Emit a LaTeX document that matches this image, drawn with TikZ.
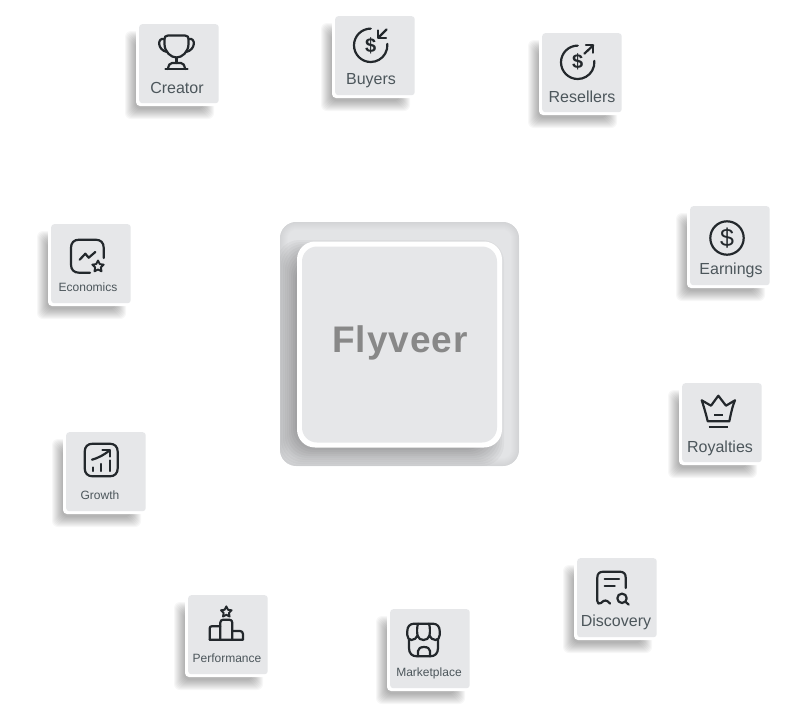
\documentclass[tikz,border=0pt]{standalone}
\usepackage{fontspec}
\setmainfont{Liberation Sans}
\definecolor{cardgray}{HTML}{E6E7E9}
\definecolor{basegray}{HTML}{E3E4E6}
\definecolor{inkc}{HTML}{23282C}
\definecolor{labelc}{HTML}{4C565B}
\definecolor{titlec}{HTML}{888888}
\tikzset{
  cardface/.style={fill=cardgray,rounded corners=3pt},
  cardback/.style={fill=white,rounded corners=4pt},
  ico/.style={draw=inkc,line width=2.2pt,line cap=round,line join=round,fill=none},
  cardlabel/.style={text=labelc,inner sep=0pt,anchor=center},
  dollar/.style={text=inkc,inner sep=0pt,font=\fontsize{20}{20}\selectfont\bfseries},
}
\newcommand{\mystar}[3]{\draw[ico,line width=1.9pt,shift={(#1,#2)}]
  (90:#3) -- (126:0.5*#3) -- (162:#3) -- (198:0.5*#3) -- (234:#3) -- (270:0.5*#3)
  -- (306:#3) -- (342:0.5*#3) -- (18:#3) -- (54:0.5*#3) -- cycle;}
\newcommand{\mycard}[8]{%
  \begin{scope}[shift={(#2,#3)}]
    \foreach \d in {-5,-4,...,5}{
      \fill[black,opacity=.032,rounded corners=6pt] ({-9-\d},{12-\d}) rectangle ({70+\d},{90+\d});}
    \fill[cardback] (-3,-2) rectangle (80,82);
    \node[cardface,minimum width=79.5pt,minimum height=79pt,inner sep=0pt,anchor=north west] (#1) at (0,0) {};
    \node[cardlabel,font=\fontsize{#6}{#6}\selectfont] (#1label) at (#4,#5) {#7};
    #8
  \end{scope}}
\newcommand{\icoTrophy}{
  \draw[ico] (29,11.5) -- (46,11.5) .. controls (48.5,11.5) and (49.5,13) .. (49.5,15) -- (49.5,20) .. controls (49.5,28) and (43,33.5) .. (37.5,33.5) .. controls (32,33.5) and (25.5,28) .. (25.5,20) -- (25.5,15) .. controls (25.5,13) and (26.5,11.5) .. (29,11.5) -- cycle;
  \draw[ico] (25.5,15) .. controls (18,13) and (18,26) .. (28,28);
  \draw[ico] (49.5,15) .. controls (57,13) and (57,26) .. (47,28);
  \draw[ico] (37.5,33.5) -- (37.5,39);
  \draw[ico] (29,45) .. controls (29.5,41) and (31,39) .. (33,39) -- (42,39) .. controls (44,39) and (45.5,41) .. (46,45);
  \draw[ico] (26.5,45) -- (48.5,45);
}
\newcommand{\icoCoin}{
  \draw[ico] (35.7,12.6) arc[start angle=90,end angle=365,radius=16.7pt];
}
\begin{document}
\begin{tikzpicture}[x=1pt,y=-1pt]
\useasboundingbox (0,0) rectangle (797,710);
% centre
\node[fill=basegray,rounded corners=16pt,minimum width=239pt,minimum height=244pt,inner sep=0pt] (base) at (399.5,344) {};
\begin{scope}
  \clip[rounded corners=16pt] (280,222) rectangle (519,466);
  \foreach \w in {2,4,...,16}{
    \draw[black,opacity=.008,line width=\w pt,rounded corners=16pt] (280,222) rectangle (519,466);}
  \foreach \d in {-14,-12,...,14}{
    \fill[black,opacity=.03,rounded corners=22pt] ({291-\d},{254-\d}) rectangle ({490+\d},{452+\d});}
\end{scope}
\node[fill=white,rounded corners=18pt,minimum width=205pt,minimum height=206pt,inner sep=0pt] (panel) at (399.5,344.5) {};
\node[fill=cardgray,rounded corners=15pt,minimum width=195pt,minimum height=196pt,inner sep=0pt] (face) at (399.5,344.5) {};
\node[text=titlec,inner sep=0pt,font=\fontsize{37}{37}\selectfont\bfseries\addfontfeature{LetterSpace=2.5}] (title) at (400,343) {Flyveer};
% cards
\mycard{creator}{139}{24}{38}{64}{16}{Creator}{\icoTrophy}
\mycard{buyers}{335}{16}{36}{64.5}{16}{Buyers}{
  \icoCoin
  \node[dollar] (buyersd) at (35.7,29.5) {\$};
  \draw[ico] (51.7,13.3) -- (43.3,21.7);
  \draw[ico] (43.3,14.5) -- (43.3,21.7) -- (51,21.7);
}
\mycard{resellers}{542}{33}{40}{64}{16}{Resellers}{
  \icoCoin
  \node[dollar] (resellersd) at (35.7,29) {\$};
  \draw[ico] (42.3,20.7) -- (51.3,12.3);
  \draw[ico] (44,12.3) -- (51.3,12.3) -- (51.3,19.7);
}
\mycard{earnings}{690}{206}{41}{64.5}{16}{Earnings}{
  \draw[ico] (37,32) circle[radius=16.7pt];
  \node[dollar,font=\fontsize{25}{25}\selectfont] (earningsd) at (37,32) {\$};
}
\mycard{royalties}{682}{383}{38}{65.5}{16}{Royalties}{
  \draw[ico] (25.7,38.3) -- (47.3,38.3) .. controls (48.5,33) and (50,24) .. (53,17.3) -- (44,22.7) -- (36.3,12.7) -- (29,22.7) -- (19.7,17.3) .. controls (22,24) and (24.5,33) .. (25.7,38.3) -- cycle;
  \draw[ico,line cap=butt] (32,31.7) -- (40.7,31.7);
  \draw[ico,line cap=butt] (26.7,44.3) -- (46.3,44.3);
}
\mycard{economics}{51}{224}{37}{63.5}{12}{Economics}{
  \draw[ico] (52.7,34) -- (52.7,23.7) .. controls (52.7,18.7) and (49.7,15.7) .. (44.7,15.7) -- (28,15.7) .. controls (23,15.7) and (20,18.7) .. (20,23.7) -- (20,40.7) .. controls (20,45.7) and (23,48.7) .. (28,48.7) -- (39,48.7);
  \draw[ico] (28.7,35.7) -- (34.3,29.7) -- (37.7,33.7) -- (44.3,28);
  \mystar{47}{42.5}{6pt}
}
\mycard{growth}{66}{432}{34}{63.5}{12}{Growth}{
  \draw[ico] (18.7,19.7) .. controls (18.7,14.7) and (21.7,11.7) .. (26.7,11.7) -- (43.7,11.7) .. controls (48.7,11.7) and (51.7,14.7) .. (51.7,19.7) -- (51.7,36.3) .. controls (51.7,41.3) and (48.7,44.3) .. (43.7,44.3) -- (26.7,44.3) .. controls (21.7,44.3) and (18.7,41.3) .. (18.7,36.3) -- cycle;
  \draw[ico] (26,27.7) .. controls (32,26) and (38,23) .. (43.7,18.3);
  \draw[ico] (36.5,18.3) -- (43.7,18.3) -- (43.7,24.5);
  \draw[ico] (26.7,35.5) -- (26.7,39);
  \draw[ico] (35,32) -- (35,39);
  \draw[ico] (43.7,28.5) -- (43.7,39);
}
\mycard{performance}{188}{595}{39}{63.5}{12}{Performance}{
  \draw[ico] (21.7,44.7) -- (21.7,33.3) .. controls (21.7,32) and (22.5,31.3) .. (23.7,31.3) -- (32.3,31.3);
  \draw[ico] (21.7,44.7) -- (55,44.7) -- (55,39) .. controls (55,37) and (53.5,36) .. (52,36) -- (44.3,36);
  \draw[ico] (32.3,44.7) -- (32.3,27.7) .. controls (32.3,25.7) and (33.5,24.7) .. (35.3,24.7) -- (41.3,24.7) .. controls (43.3,24.7) and (44.3,25.7) .. (44.3,27.7) -- (44.3,44.7);
  \mystar{38.3}{17}{5.6pt}
}
\mycard{marketplace}{390}{609}{39}{64}{12}{Marketplace}{
  \draw[ico] (24,14.7) -- (43,14.7) .. controls (47,14.7) and (49.7,17.5) .. (49.7,22) -- (49.7,26) .. controls (49.7,29) and (48,31) .. (45.5,31) .. controls (42.5,31) and (40.5,29) .. (39.5,26.5) .. controls (38.5,29.5) and (36.5,31) .. (33.5,31) .. controls (30.5,31) and (28.5,29.5) .. (27.5,26.5) .. controls (26.5,29) and (24.5,31) .. (21.5,31) .. controls (19,31) and (17.3,29) .. (17.3,26) -- (17.3,22) .. controls (17.3,17.5) and (20,14.7) .. (24,14.7) -- cycle;
  \draw[ico] (27.5,26.5) .. controls (26.8,22) and (27,18) .. (28,14.7);
  \draw[ico] (39.5,26.5) .. controls (40.2,22) and (40,18) .. (39,14.7);
  \draw[ico] (19,31) -- (19,39) .. controls (19,44.5) and (22,47.3) .. (27,47.3) -- (40,47.3) .. controls (45,47.3) and (48,44.5) .. (48,39) -- (48,31);
  \draw[ico] (28,47.3) -- (28,42) .. controls (28,39.5) and (30.5,38) .. (34,38) .. controls (37.5,38) and (40,39.5) .. (40,42) -- (40,47.3);
}
\mycard{discovery}{577}{558}{39}{64.5}{16}{Discovery}{
  \draw[ico] (48.7,30) -- (48.7,19.7) .. controls (48.7,15.7) and (46.7,13.7) .. (42.7,13.7) -- (26.3,13.7) .. controls (22.3,13.7) and (20.3,15.7) .. (20.3,19.7) -- (20.3,43) .. controls (20.3,45.5) and (22,46.5) .. (24,45) .. controls (26,43) and (27,42.5) .. (28.5,42.5) .. controls (30,42.5) and (31,43.5) .. (33,45.5);
  \draw[ico] (27.7,21.3) -- (42,21.3);
  \draw[ico] (27.7,27.7) -- (37.7,27.7);
  \draw[ico] (45,40.3) circle[radius=4.7pt];
  \draw[ico] (48.6,43.9) -- (51.7,46.6);
}
\end{tikzpicture}
\end{document}
